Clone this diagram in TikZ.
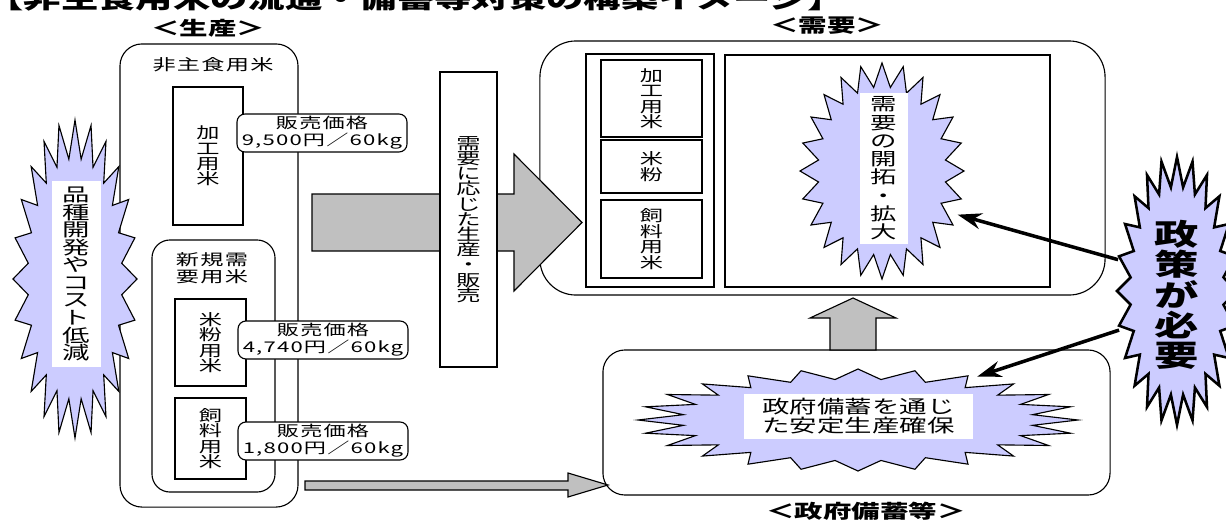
\documentclass[tikz,border=0pt]{standalone}
\usepackage{fontspec}
\setmainfont{Noto Sans CJK JP}[FakeStretch=1.5]
\usetikzlibrary{shapes.geometric,arrows.meta}

\definecolor{burstblue}{RGB}{204,204,255}
\definecolor{blockgray}{RGB}{192,192,192}

% stella a 24 punte attorno al nodo #2 (raggi #3, #4, rapporto interno #5)
\newcommand{\burstpath}[5][]{%
  \draw[#1, shift={(#2.center)}] plot[samples=49, domain=0:48, variable=\k]
    ({#3*(1-(1-#5)*mod(\k,2))*cos(7.5*\k)}, {#4*(1-(1-#5)*mod(\k,2))*sin(7.5*\k)}) -- cycle;}

\begin{document}
\begin{tikzpicture}[x=0.025cm, y=-0.025cm, >={Stealth[length=6mm, width=4mm]}, line width=0.8pt]
        % Stili
        \tikzstyle{cell} = [draw, rectangle, fill=white, inner sep=0pt, align=center]
        \tikzstyle{roundbox} = [cell, rounded corners=0.55cm]
        \tikzstyle{price} = [cell, rounded corners=0.2cm, minimum width=4.25cm, minimum height=0.95cm, font=\fontsize{10.5}{12}\selectfont\addfontfeatures{LetterSpace=8}]
        \tikzstyle{tate} = [font=\fontsize{11}{11}\selectfont]
        \tikzstyle{whitetag} = [fill=white, inner sep=0pt, align=center]
        \tikzstyle{spot} = [ellipse, inner sep=0pt]
        \tikzstyle{burst} = [fill=burstblue, draw=black, line width=0.8pt]
        \tikzstyle{section} = [font=\bfseries\fontsize{13.5}{14}\selectfont, inner sep=0pt]
        \tikzstyle{block} = [fill=blockgray, draw=black, line width=0.8pt]
        \tikzstyle{policyarrow} = [->, line width=2.5pt]

        \useasboundingbox (0,0) rectangle (1226,521);
        \clip (0,0) rectangle (1226,521);

        % --- Titolo ---
        \node [anchor=base west, inner sep=0pt, font=\bfseries\fontsize{17.7}{18}\selectfont] (title) at (-14,8.5) {【非主食用米の流通・備蓄等対策の構築イメージ】};
        \node [section] (prodhead) at (208,28) {＜生産＞};
        \node [section] (demhead) at (827,26) {＜需要＞};
        \node [section] (reshead) at (866,511) {＜政府備蓄等＞};

        % --- Produzione ---
        \node [roundbox, minimum width=4.45cm, minimum height=11.575cm] (prod) at (209,275.5) {};
        \node [font=\fontsize{11}{12}\selectfont\addfontfeatures{LetterSpace=8}] (nonstaple) at (213,65) {非主食用米};
        \node [cell, tate, minimum width=1.75cm, minimum height=3.45cm] (proc) at (208,156) {加\\工\\用\\米};
        \node [roundbox, rounded corners=0.45cm, minimum width=3.075cm, minimum height=6.3cm] (newuse) at (213.5,366) {};
        \node [align=center, font=\fontsize{11}{12}\selectfont\addfontfeatures{LetterSpace=8}] (newtxt) at (212,268) {新規需\\要用米};
        \node [cell, tate, minimum width=1.775cm, minimum height=2.175cm] (flour) at (210.5,342.5) {米\\粉\\用\\米};
        \node [cell, tate, minimum width=1.775cm, minimum height=2.025cm] (feed) at (210.5,438.5) {飼\\料\\用\\米};

        % Prezzi di vendita
        \node [price] (price1) at (322,133) {販売価格\\9,500円／60kg};
        \node [price] (price2) at (323,340) {販売価格\\4,740円／60kg};
        \node [price] (price3) at (323,441) {販売価格\\1,800円／60kg};

        % Stella costi
        \node [spot, minimum width=3.1cm, minimum height=7.95cm] (cost) at (75,279) {};
        \burstpath[burst]{cost}{62}{159}{0.76}
        \node [whitetag, minimum width=1.225cm, minimum height=4.65cm, font=\fontsize{13}{12.5}\selectfont] (costtxt) at (76.5,274) {品\\種\\開\\発\\や\\コ\\ス\\ト\\低\\減};

        % --- Domanda ---
        \node [roundbox, rounded corners=0.9cm, minimum width=14.125cm, minimum height=6.35cm] (demand) at (822.5,168) {};

        % Freccia grande produzione -> domanda
        \draw [block] (312,194) -- (514,194) -- (514,154) -- (582,222.5) -- (514,291) -- (514,251) -- (312,251) -- cycle;
        \node [cell, minimum width=1.425cm, minimum height=7.375cm, font=\fontsize{11.5}{10.8}\selectfont] (sell) at (468.5,219.5) {需\\要\\に\\応\\じ\\た\\生\\産\\・\\販\\売};

        \node [cell, minimum width=3.2cm, minimum height=5.825cm] (uses) at (650,170.5) {};
        \node [cell, tate, minimum width=2.525cm, minimum height=1.925cm] (dproc) at (651.5,98.5) {加\\工\\用\\米};
        \node [cell, tate, minimum width=2.525cm, minimum height=1.325cm] (dflour) at (651.5,166.5) {米\\粉};
        \node [cell, tate, minimum width=2.525cm, minimum height=1.95cm] (dfeed) at (651.5,239) {飼\\料\\用\\米};

        \node [cell, minimum width=8.125cm, minimum height=5.8cm] (expandarea) at (887.5,171) {};
        \node [spot, minimum width=4.1cm, minimum height=5.4cm] (expand) at (882,171) {};
        \burstpath[burst]{expand}{82}{108}{0.78}
        \node [whitetag, minimum width=1.2cm, minimum height=3.775cm, font=\fontsize{12.5}{13}\selectfont] (expandtxt) at (884,168.5) {需\\要\\の\\開\\拓\\・\\拡\\大};

        % --- Scorte governative ---
        \node [roundbox, minimum width=12.675cm, minimum height=3.625cm] (reservebox) at (856.5,422.5) {};
        \node [spot, minimum width=11cm, minimum height=2.55cm] (stable) at (858,420) {};
        \burstpath[burst]{stable}{220}{51}{0.8}
        \node [whitetag, minimum width=5.725cm, minimum height=1.125cm, font=\fontsize{13}{13.5}\selectfont] (stabletxt) at (858.5,416.5) {政府備蓄を通じ\\た安定生産確保};

        % Frecce grigie
        \draw [block] (830,350) -- (830,318) -- (810,318) -- (853,298) -- (896,318) -- (876,318) -- (876,350) -- cycle;
        \draw [block] (305,481) -- (568,481) -- (568,473) -- (608,485) -- (568,497) -- (568,490) -- (305,490) -- cycle;

        % --- Politiche ---
        \node [spot, minimum width=3cm, minimum height=6.7cm] (policy) at (1177,291) {};
        \draw [policyarrow] (policy.152) -- (expand.-30);
        \draw [policyarrow] (policy.214) -- (stable.20);
        \burstpath[burst, line width=1.8pt]{policy}{60}{134}{0.78}
        \node [align=center, inner sep=0pt, font=\bfseries\fontsize{21}{21.6}\selectfont] (policytxt) at (1177,295) {政\\策\\が\\必\\要};

    \end{tikzpicture}
\end{document}
